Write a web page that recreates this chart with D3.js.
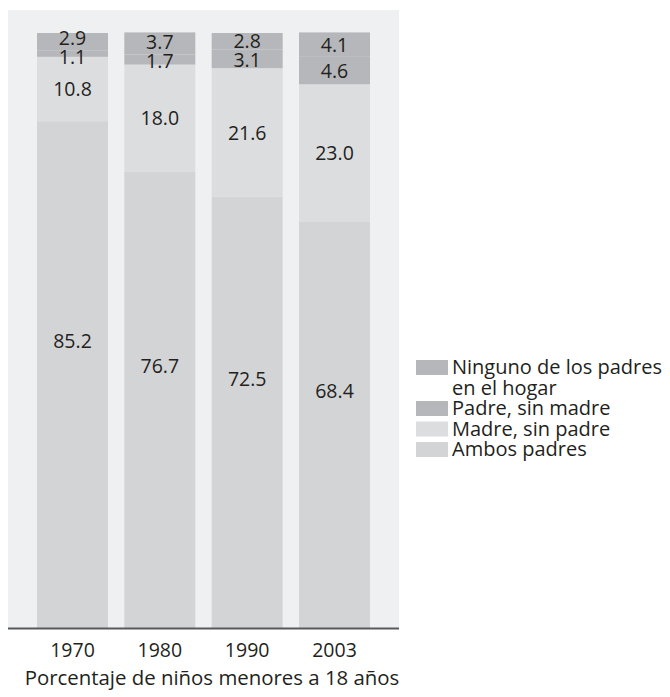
<!DOCTYPE html>
<html>
<head>
    <meta charset="utf-8" />
    <script src="https://d3js.org/d3.v7.min.js"></script>
    <style>
        body { margin: 0; background: #fff; }
        text { font-family: "Open Sans", sans-serif; fill: #231f20; }
    </style>
</head>
<body>
    <script type="text/javascript">
        var years = ["1970", "1980", "1990", "2003"];
        var ambos = [85.2, 76.7, 72.5, 68.4];
        var madre = [10.8, 18.0, 21.6, 23.0];
        var padre = [1.1, 1.7, 3.1, 4.6];
        var ninguno = [2.9, 3.7, 2.8, 4.1];

        var keys = ["ambos", "madre", "padre", "ninguno"];
        var colors = {ambos: "#d3d4d6", madre: "#dcdddf", padre: "#b6b7ba", ninguno: "#b6b7ba"};
        var legendItems = [
            {key: "ninguno", lines: ["Ninguno de los padres", "en el hogar"]},
            {key: "padre", lines: ["Padre, sin madre"]},
            {key: "madre", lines: ["Madre, sin padre"]},
            {key: "ambos", lines: ["Ambos padres"]}
        ];

        var w = 670,
            h = 697;

        var svg = d3.select("body")
                    .append("svg")
                    .attr("width", w)
                    .attr("height", h);

        var rows = years.map(function(y, i) {
            return {year: y, ambos: ambos[i], madre: madre[i], padre: padre[i], ninguno: ninguno[i]};
        });

        var x = d3.scaleBand()
                  .domain(years)
                  .range([8, 399])
                  .paddingInner(0.187)
                  .paddingOuter(0.332);

        var y = d3.scaleLinear()
                  .domain([0, 100])
                  .range([629, 33]);

        var stack = d3.stack().keys(keys)(rows);

        // panel
        svg.append("rect")
           .attr("x", 8)
           .attr("y", 10)
           .attr("width", 391)
           .attr("height", 619)
           .style("fill", "#eff0f2");

        var layers = svg.selectAll("g.layer")
                        .data(stack)
                        .enter()
                        .append("g")
                        .attr("class", "layer")
                        .style("fill", function(d){ return colors[d.key]; });

        layers.selectAll("rect")
              .data(function(d){ return d; })
              .enter()
              .append("rect")
              .attr("x", function(d){ return x(d.data.year); })
              .attr("y", function(d){ return y(d[1]); })
              .attr("width", x.bandwidth())
              .attr("height", function(d){ return y(d[0]) - y(d[1]); });

        // label positions
        var fmt = d3.format(".1f");
        var labels = [];
        stack.forEach(function(layer) {
            layer.forEach(function(d) {
                var top = y(d[1]), bot = y(d[0]);
                var cy = (top + bot) / 2;
                if (layer.key == "ambos") cy -= 34;
                labels.push({key: layer.key, year: d.data.year, v: d.data[layer.key], cy: cy});
            });
        });
        // push the small top labels apart
        years.forEach(function(yr) {
            var a = labels.find(function(l){ return l.year == yr && l.key == "padre"; });
            var b = labels.find(function(l){ return l.year == yr && l.key == "ninguno"; });
            var gap = 19;
            if (a.cy - b.cy < gap) {
                var mid = (a.cy + b.cy) / 2;
                a.cy = mid + gap / 2;
                b.cy = mid - gap / 2;
            }
        });

        svg.selectAll("text.val")
           .data(labels)
           .enter()
           .append("text")
           .attr("class", "val")
           .attr("x", function(d){ return x(d.year) + x.bandwidth() / 2; })
           .attr("y", function(d){ return d.cy; })
           .attr("dy", "0.36em")
           .attr("text-anchor", "middle")
           .style("font-size", "19.5px")
           .text(function(d){ return fmt(d.v); });

        // axis line
        svg.append("line")
           .attr("x1", 8)
           .attr("x2", 399)
           .attr("y1", 628.5)
           .attr("y2", 628.5)
           .style("stroke", "#58595b")
           .style("stroke-width", 2);

        svg.selectAll("text.year")
           .data(years)
           .enter()
           .append("text")
           .attr("class", "year")
           .attr("x", function(d){ return x(d) + x.bandwidth() / 2; })
           .attr("y", 657)
           .attr("text-anchor", "middle")
           .style("font-size", "19.5px")
           .text(function(d){ return d; });

        svg.append("text")
           .attr("x", 212)
           .attr("y", 685)
           .attr("text-anchor", "middle")
           .style("font-size", "20.4px")
           .text("Porcentaje de niños menores a 18 años");

        // legend
        var legend = svg.append("g").attr("transform", "translate(416,360)");
        var ly = 0, lh = 20.5;
        legendItems.forEach(function(item) {
            legend.append("rect")
                  .attr("x", 0)
                  .attr("y", ly)
                  .attr("width", 32)
                  .attr("height", 15)
                  .style("fill", colors[item.key]);
            item.lines.forEach(function(line, j) {
                legend.append("text")
                      .attr("x", 36)
                      .attr("y", ly + 14 + j * lh)
                      .style("font-size", "20px")
                      .text(line);
            });
            ly += item.lines.length * lh;
        });
    </script>
</body>
</html>
